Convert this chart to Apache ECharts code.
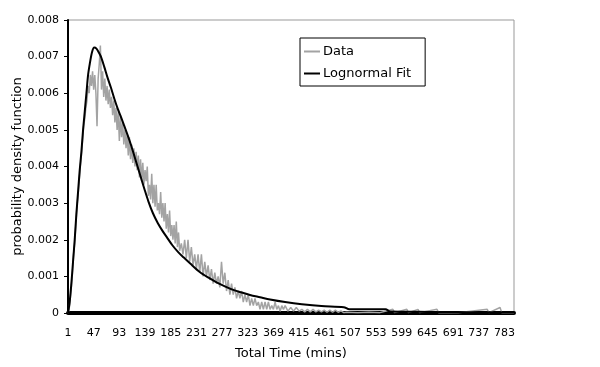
<!DOCTYPE html>
<html>
<head>
<meta charset="utf-8">
<script src="https://cdn.jsdelivr.net/npm/echarts@6/dist/echarts.min.js"></script>
<style>html,body{margin:0;padding:0;background:#fff}#c{width:600px;height:367px}</style>
</head>
<body>
<div id="c"></div>
<script>
// x-axis ticks shown (minutes)
const tickLabels = [1, 47, 93, 139, 185, 231, 277, 323, 369, 415, 461, 507, 553, 599, 645, 691, 737, 783];
const maxMinute = 800;
const yTicks = [0, 0.001, 0.002, 0.003, 0.004, 0.005, 0.006, 0.007, 0.008];

// Observed data (time in minutes, density)
const dataTimes = [1,3,5,7,9,11,13,15,17,19,21,23,25,27,29,31,33,35,37,39,41,43,45,47,49,51,53,55,57,59,61,63,65,67,69,71,73,75,77,79,81,83,85,87,89,91,93,95,97,99,101,103,105,107,109,111,113,115,117,119,121,123,125,127,129,131,133,135,137,139,141,143,145,147,149,151,153,155,157,159,161,163,165,167,169,171,173,175,177,179,181,183,185,187,189,191,193,195,197,199,201,204,207,210,213,216,219,222,225,228,231,234,237,240,243,246,249,252,255,258,261,264,267,270,273,276,279,282,285,288,291,294,297,300,303,306,309,312,315,318,321,324,327,330,333,336,339,342,345,348,351,354,357,360,363,366,369,372,375,378,381,384,387,390,395,400,405,410,415,420,425,430,435,440,445,450,455,460,465,470,475,480,485,490,495,500,520,540,560,583,586,608,611,628,631,662,665,700,752,755,775,778,800];
const dataValues = [0,0.0001,0.0004,0.0007,0.0011,0.0016,0.0019,0.0024,0.0029,0.0032,0.0036,0.0040,0.0043,0.0047,0.0051,0.0053,0.0056,0.0058,0.0062,0.0060,0.0065,0.0062,0.0066,0.0061,0.0065,0.0060,0.0051,0.0064,0.0068,0.0073,0.0061,0.0066,0.0059,0.0064,0.0058,0.0062,0.0057,0.0061,0.0056,0.0059,0.0054,0.0058,0.0052,0.0056,0.0050,0.0055,0.0047,0.0054,0.0048,0.0052,0.0046,0.0050,0.0045,0.0049,0.0043,0.0048,0.0042,0.0046,0.0041,0.0045,0.0040,0.0044,0.0039,0.0043,0.0037,0.0042,0.0036,0.0041,0.0035,0.0039,0.0036,0.0040,0.0032,0.0035,0.0031,0.0038,0.0030,0.0035,0.0029,0.0035,0.0028,0.0030,0.0027,0.0033,0.0026,0.0030,0.0025,0.0030,0.0023,0.0027,0.0022,0.0028,0.0021,0.0024,0.0020,0.0024,0.0019,0.0025,0.0018,0.0022,0.0017,0.0019,0.0016,0.0020,0.0015,0.0020,0.0014,0.0018,0.0013,0.0016,0.0012,0.0016,0.0011,0.0016,0.0010,0.0014,0.0010,0.0013,0.0009,0.0012,0.0008,0.0011,0.0008,0.0010,0.0007,0.0014,0.0008,0.0011,0.0006,0.0009,0.0005,0.0008,0.0005,0.0007,0.0004,0.0006,0.0004,0.0006,0.0003,0.0005,0.0003,0.0005,0.0002,0.0004,0.0002,0.0004,0.0002,0.0003,0.0001,0.0003,0.0001,0.0003,0.0001,0.0003,0.0001,0.0002,0.0001,0.0003,0.0001,0.0002,0.00005,0.0002,0.0001,0.0002,0.00005,0.00015,0.00005,0.00015,0.00005,0.0001,0.00003,0.0001,0.00003,0.0001,0.00003,0.00008,0.00003,0.00008,0.00002,0.00008,0.00002,0.00008,0.00002,0.00006,0.00001,0.00002,0.00001,0.00002,0.00001,0.0001,0.00001,0.0001,0.00001,0.0001,0.00001,0.0001,0.00001,0.00001,0.0001,0.00001,0.00015,0.00001,0.00001];

// Lognormal fit (time in minutes, density)
const fitTimes = [1,4,7,10,13,16,19,22,25,28,31,34,37,40,44,48,52,56,60,66,72,78,84,90,96,102,108,114,120,126,132,138,145,153,162,170,178,188,198,208,220,237,252,268,283,297,312,327,345,363,390,420,455,495,505,540,570,578,650,720,800];
const fitValues = [0,0.0003,0.0008,0.0014,0.0020,0.0027,0.0033,0.0039,0.0044,0.0050,0.0055,0.0060,0.0065,0.0068,0.00712,0.00725,0.00722,0.00712,0.00700,0.00672,0.00642,0.00615,0.00585,0.00558,0.00535,0.00510,0.00485,0.00458,0.00428,0.00398,0.00368,0.00338,0.00305,0.00273,0.00245,0.00225,0.00207,0.00185,0.00167,0.00152,0.00135,0.00112,0.00097,0.00083,0.00072,0.00063,0.00056,0.00049,0.00043,0.00037,0.0003,0.00024,0.00019,0.00016,0.0001,0.0001,0.0001,0.00004,0.00003,0.00002,0.00002];

const categories = [];
for (let m = 1; m <= maxMinute; m++) categories.push(String(m));
const toPairs = (ts, vs) => ts.map((t, i) => [t - 1, vs[i]]);

const font = '"DejaVu Sans", Arial, sans-serif';
const chart = echarts.init(document.getElementById('c'), null, {renderer: 'canvas'});
chart.setOption({
  animation: false,
  backgroundColor: '#fff',
  grid: {left: 68, right: 86, top: 20, bottom: 54, containLabel: false, outerBoundsMode: 'none',
         show: true, borderColor: '#999', borderWidth: 1, backgroundColor: '#fff'},
  legend: {
    orient: 'vertical', left: 300, top: 38,
    data: ['Data', 'Lognormal Fit'],
    icon: 'rect', itemWidth: 16, itemHeight: 2, itemGap: 9,
    padding: [7, 14, 6, 4],
    borderColor: '#000', borderWidth: 1,
    textStyle: {fontFamily: font, fontSize: 13, color: '#000', padding: [0, 0, 0, -2]}
  },
  xAxis: {
    type: 'category', data: categories, boundaryGap: false,
    name: 'Total Time (mins)', nameLocation: 'middle', nameGap: 34, nameMoveOverlap: false,
    nameTextStyle: {fontFamily: font, fontSize: 13, color: '#000'},
    axisLine: {lineStyle: {color: '#000', width: 4}},
    axisTick: {show: false},
    axisLabel: {
      interval: (idx, val) => tickLabels.includes(Number(val)),
      fontFamily: font, fontSize: 11, color: '#000', margin: 15
    },
    splitLine: {show: false}
  },
  yAxis: {
    type: 'value', min: yTicks[0], max: yTicks[yTicks.length - 1], interval: 0.001,
    name: 'probability density function', nameLocation: 'middle', nameGap: 44, nameMoveOverlap: false,
    nameTextStyle: {fontFamily: font, fontSize: 13, color: '#000'},
    axisLine: {show: true, lineStyle: {color: '#000', width: 2}},
    axisTick: {show: true, inside: false, length: 4, lineStyle: {color: '#000'}},
    axisLabel: {
      fontFamily: font, fontSize: 11, color: '#000', margin: 9,
      formatter: v => (v === 0 ? '0' : v.toFixed(3))
    },
    splitLine: {show: false}
  },
  series: [
    {
      name: 'Data', type: 'line', showSymbol: false, symbol: 'none',
      data: toPairs(dataTimes, dataValues),
      lineStyle: {color: '#a3a3a3', width: 1.5}, itemStyle: {color: '#a3a3a3'},
      z: 2
    },
    {
      name: 'Lognormal Fit', type: 'line', showSymbol: false, symbol: 'none', smooth: 0.3,
      data: toPairs(fitTimes, fitValues),
      lineStyle: {color: '#000', width: 2}, itemStyle: {color: '#000'},
      z: 3
    }
  ]
});
</script>
</body>
</html>
